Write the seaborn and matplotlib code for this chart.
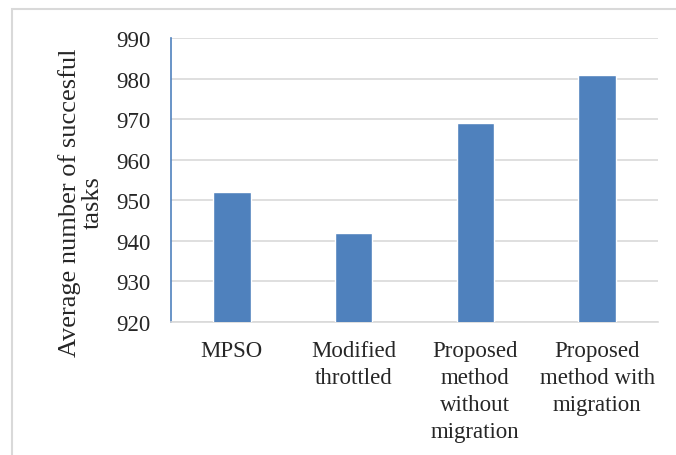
import matplotlib
matplotlib.use("Agg")
import matplotlib.pyplot as plt
import seaborn as sns
import pandas as pd
from matplotlib.patches import Rectangle

categories = ["MPSO", "Modified\nthrottled", "Proposed\nmethod\nwithout\nmigration",
              "Proposed\nmethod with\nmigration"]
values = [952, 942, 969, 981]
y_ticks = [920, 930, 940, 950, 960, 970, 980, 990]

sns.set_theme(style="white")
plt.rcParams["font.family"] = ["Liberation Serif", "DejaVu Serif"]

df = pd.DataFrame({"method": categories, "tasks": values})

fig = plt.figure(figsize=(6.76, 4.56), dpi=100)
ax = fig.add_axes([171 / 676, 1 - 323 / 456, (658 - 171) / 676, (323 - 39) / 456])

sns.barplot(data=df, x="method", y="tasks", color="#4F81BD", width=0.31,
            saturation=1, ax=ax, zorder=3)

ax.set_ylim(920, 990)
ax.set_yticks(y_ticks)
ax.set_yticklabels([str(t) for t in y_ticks], fontsize=16.5)
ax.tick_params(axis="y", length=0, pad=15)
ax.tick_params(axis="x", length=0, pad=13, labelsize=16.5)
ax.set_xlim(-0.5, 3.5)
ax.grid(axis="y", color="#D9D9D9", linewidth=1.2, zorder=0)
ax.set_xlabel("")
ax.set_ylabel("")
for lbl in ax.get_xticklabels():
    lbl.set_linespacing(1.38)

# two-line axis title, rotated
fig.text(81 / 676, 1 - 203 / 456, "Average number of succesful\ntasks",
         rotation=90, ha="center", va="center", fontsize=19,
         linespacing=1.0, multialignment="center")

for side in ["top", "right"]:
    ax.spines[side].set_visible(False)
ax.spines["left"].set_color("#4F81BD")
ax.spines["left"].set_linewidth(1.2)
ax.spines["bottom"].set_color("#D9D9D9")
ax.spines["bottom"].set_linewidth(1.2)

# light frame around the chart area
fig.patches.append(Rectangle((12 / 676, -0.1), 1.2, 1 - 10 / 456 + 0.1,
                             transform=fig.transFigure, fill=False,
                             edgecolor="#D9D9D9", linewidth=1.5))

fig.savefig("out.png", dpi=100)
